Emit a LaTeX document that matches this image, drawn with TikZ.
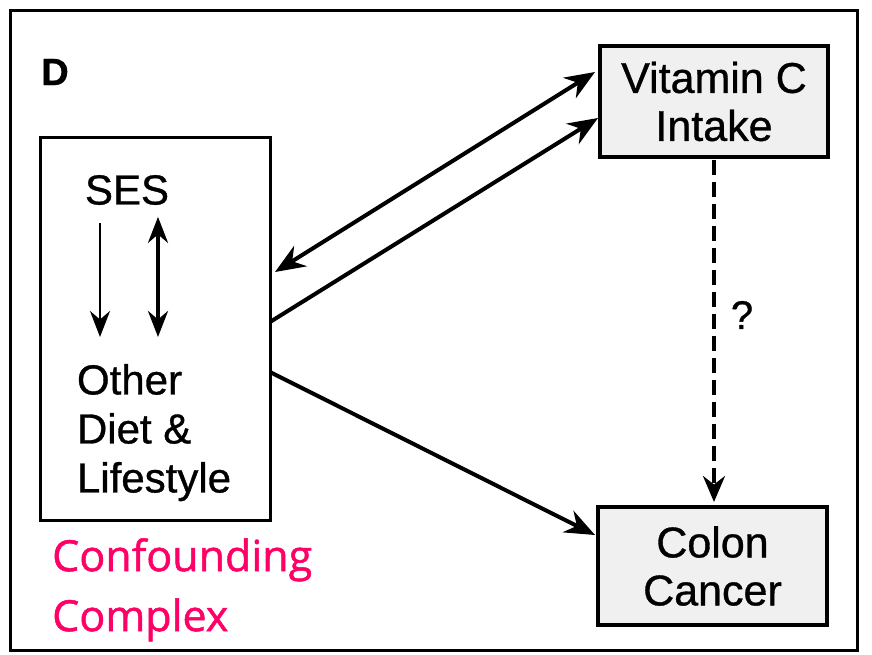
\documentclass[tikz,border=0pt]{standalone}
\usepackage{fontspec}
\setmainfont{Liberation Sans}[FakeBold=0.8]
\newfontfamily\notefont[FakeBold=1.2]{Open Sans}
\usetikzlibrary{arrows.meta,calc}
\definecolor{notepink}{RGB}{255,0,102}
\begin{document}
\begin{tikzpicture}[x=1pt,y=-1pt,
  box/.style={draw=black, line width=3.5pt, fill=black!6, inner sep=0pt, outer sep=0pt,
    font=\fontsize{43}{48}\selectfont, align=center},
  txt/.style={inner sep=0pt, outer sep=0pt, font=\fontsize{42}{49}\selectfont},
  arr/.style={line width=4pt, -{Stealth[length=30pt,width=24pt]}},
  biarr/.style={line width=4pt, {Stealth[length=30pt,width=24pt]}-{Stealth[length=30pt,width=24pt]}},
  dasharr/.style={line width=3.5pt, dash pattern=on 15pt off 7pt, -{Stealth[length=26pt,width=22pt]}}
]
\useasboundingbox (0,0) rectangle (872,654);

% outer frame
\draw[line width=3pt] (10,10) rectangle (857,650);

% panel letter
\node[inner sep=0pt, font=\fontsize{38}{38}\selectfont\bfseries] (panel) at (55,72) {D};

% boxes
\node[draw=black, line width=3pt, fill=white, inner sep=0pt, outer sep=0pt,
      minimum width=230pt, minimum height=383pt] (lbox) at (155,328.5) {};
\node[box, minimum width=228pt, minimum height=111pt] (vit) at (714,101.5) {Vitamin C\\Intake};
\node[box, minimum width=229pt, minimum height=118pt] (col) at (712.5,566) {Colon\\Cancer};

% contents of the confounding box
\node[txt] (ses) at (127,190) {SES};
\node[txt, anchor=north west, align=left] (other) at (77,364) {Other\\Diet \&\\Lifestyle};

\draw[line width=2.5pt, -{Stealth[length=26pt,width=20pt]}]
  ([xshift=-27pt,yshift=-18pt]ses.south) -- ([xshift=23pt,yshift=27pt]other.north west);
\draw[line width=3.5pt, {Stealth[length=26pt,width=20pt]}-{Stealth[length=26pt,width=20pt]}]
  ([xshift=31pt,yshift=-12pt]ses.south) -- ([xshift=81pt,yshift=27pt]other.north west);

% connectors
\draw[biarr] ([xshift=5pt,yshift=56.5pt]lbox.east) -- ([xshift=-5pt,yshift=29.5pt]vit.west);
\draw[arr] ([yshift=6.5pt]lbox.east) -- ([xshift=-2pt,yshift=-16.5pt]vit.west);
\draw[arr] ([yshift=-43.5pt]lbox.east) -- ([xshift=-3pt,yshift=31pt]col.west);
\draw[dasharr] ([yshift=-3pt]vit.south) -- ([yshift=5pt]vit.south |- col.north);

\node[inner sep=0pt, font=\fontsize{40}{40}\selectfont] (q) at (742,315) {?};

% annotation
\node[inner sep=0pt, anchor=north west, align=left, text=notepink,
      font=\notefont\fontsize{43}{60}\selectfont] (note) at (52,538) {Confounding\\Complex};
\end{tikzpicture}
\end{document}
